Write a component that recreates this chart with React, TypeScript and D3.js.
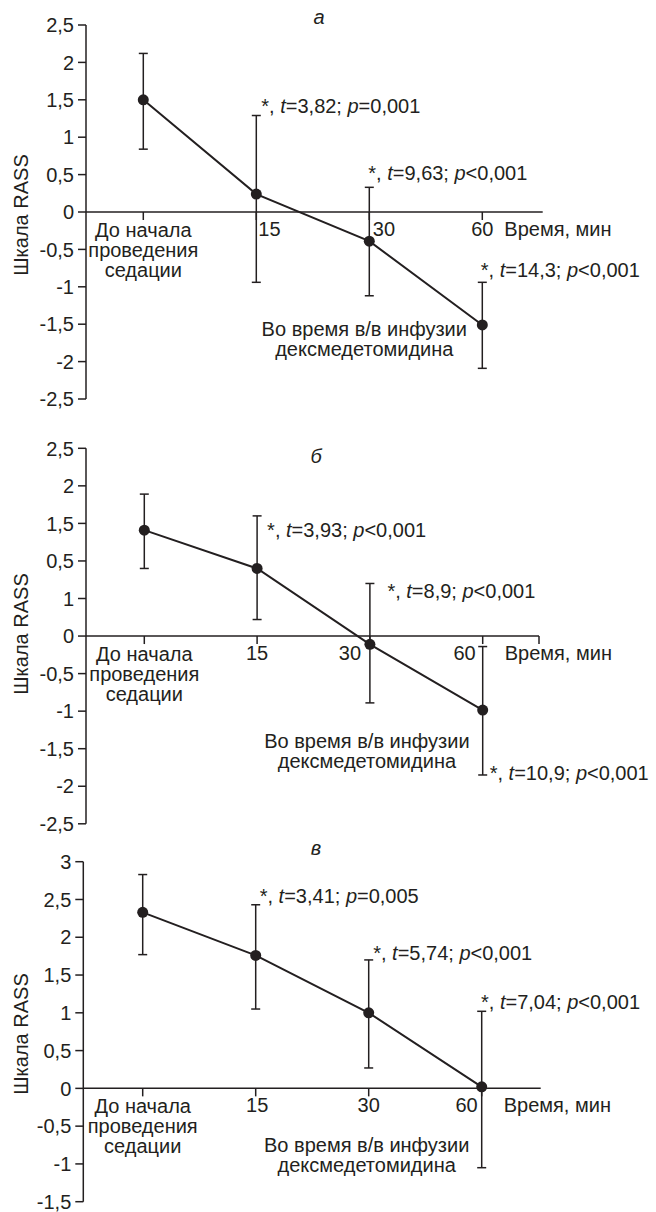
import React from "react";
import * as d3 from "d3";

// ---------- DATA ----------
const categories = ["pre", "15", "30", "60"];
const xTickLabels = ["", "15", "30", "60"];

const meanA = [1.5, 0.24, -0.39, -1.51];
const upperA = [2.12, 1.29, 0.33, -0.94];
const lowerA = [0.84, -0.94, -1.12, -2.09];

const meanB = [1.41, 0.9, -0.11, -0.985];
const upperB = [1.89, 1.6, 0.7, -0.14];
const lowerB = [0.9, 0.22, -0.89, -1.85];

const meanC = [2.33, 1.76, 1.0, 0.02];
const upperC = [2.83, 2.43, 1.7, 1.02];
const lowerC = [1.77, 1.05, 0.27, -1.05];

const yTicksAB = [2.5, 2, 1.5, 1, 0.5, 0, -0.5, -1, -1.5, -2, -2.5];
const yTickLabelsA = ["2,5", "2", "1,5", "1", "0,5", "0", "-0,5", "-1", "-1,5", "-2", "-2,5"];
const yTickLabelsB = ["2,5", "2", "1,5", "0,5", "1", "0", "-0,5", "-1", "-1,5", "-2", "-2,5"];
const yTicksC = [3, 2.5, 2, 1.5, 1, 0.5, 0, -0.5, -1, -1.5];
const yTickLabelsC = ["3", "2,5", "2", "1,5", "1", "0,5", "0", "-0,5", "-1", "-1,5"];

const statsA = [
  { t: "3,82", op: "=", p: "0,001" },
  { t: "9,63", op: "<", p: "0,001" },
  { t: "14,3", op: "<", p: "0,001" },
];
const statsB = [
  { t: "3,93", op: "<", p: "0,001" },
  { t: "8,9", op: "<", p: "0,001" },
  { t: "10,9", op: "<", p: "0,001" },
];
const statsC = [
  { t: "3,41", op: "=", p: "0,005" },
  { t: "5,74", op: "<", p: "0,001" },
  { t: "7,04", op: "<", p: "0,001" },
];

const titles = ["а", "б", "в"];
const preLabel = ["До начала", "проведения", "седации"];
const duringLabel = ["Во время в/в инфузии", "дексмедетомидина"];
const xAxisTitle = "Время, мин";
const yAxisTitle = "Шкала RASS";

// ---------- LAYOUT ----------
const FONT = "'Liberation Sans', Arial, sans-serif";
const FS = 20;
const LINE = 20;

const panels = [
  {
    mean: meanA, upper: upperA, lower: lowerA, stats: statsA,
    ticks: yTicksAB, tickLabels: yTickLabelsA, yDomain: [-2.5, 2.5],
    axisX: 86, yRange: [399, 25], xRange: [143.3, 482.3], axisEnd: 542.7, endTick: false,
    title: [319, 24], yLabelY: 215,
    xLab: [{ dx: 2, a: "start" }, { dx: 3.5, a: "start" }, { dx: 0, a: "middle" }],
    during: { dx: -5, dy: 124 },
    ann: [
      { i: 1, dx: 5, dy: -3, ref: "upper" },
      { i: 2, dx: -1, dy: -7, ref: "upper" },
      { i: 3, dx: -1.5, dy: -5, ref: "upper" },
    ],
  },
  {
    mean: meanB, upper: upperB, lower: lowerB, stats: statsB,
    ticks: yTicksAB, tickLabels: yTickLabelsB, yDomain: [-2.5, 2.5],
    axisX: 86, yRange: [823.8, 448.3], xRange: [144.3, 482.7], axisEnd: 539, endTick: true,
    title: [316, 463], yLabelY: 634,
    xLab: [{ dx: 0, a: "middle" }, { dx: -20, a: "middle" }, { dx: -7, a: "end" }],
    during: { dx: -3, dy: 112 },
    ann: [
      { i: 1, dx: 10, dy: 21, ref: "upper" },
      { i: 2, dx: 17.5, dy: 14.5, ref: "upper" },
      { i: 3, dx: 7, dy: 5, ref: "lower" },
    ],
  },
  {
    mean: meanC, upper: upperC, lower: lowerC, stats: statsC,
    ticks: yTicksC, tickLabels: yTickLabelsC, yDomain: [-1.5, 3],
    axisX: 83.3, yRange: [1201.7, 861.7], xRange: [142.7, 481.7], axisEnd: 540.7, endTick: false,
    title: [316, 855], yLabelY: 1034,
    xLab: [{ dx: 1.5, a: "middle" }, { dx: 0, a: "middle" }, { dx: -4, a: "end" }],
    during: { dx: -2, dy: 64 },
    ann: [
      { i: 1, dx: 4, dy: -2, ref: "upper" },
      { i: 2, dx: 4.5, dy: 0, ref: "upper" },
      { i: 3, dx: -0.7, dy: -2.5, ref: "upper" },
    ],
  },
];

function Panel({ p, idx }: { p: any; idx: number }) {
  const y = d3.scaleLinear().domain(p.yDomain).range(p.yRange);
  const x = d3.scalePoint().domain(categories).range(p.xRange);
  const y0 = y(0);
  const pts = categories.map((c, i) => ({ c, v: p.mean[i], up: p.upper[i], lo: p.lower[i] }));
  const line = d3
    .line<any>()
    .x((d) => x(d.c) as number)
    .y((d) => y(d.v));
  const top = Math.min(...p.yRange);
  const bottom = Math.max(...p.yRange);
  const cap = 4.5;
  return (
    <g fontFamily={FONT} fontSize={FS} fill="#231f20">
      {/* y axis */}
      <line x1={p.axisX} x2={p.axisX} y1={top} y2={bottom} stroke="#231f20" strokeWidth={1.5} />
      {p.ticks.map((t: number, i: number) => (
        <g key={"yt" + i}>
          <line x1={p.axisX - 8} x2={p.axisX} y1={y(t)} y2={y(t)} stroke="#231f20" strokeWidth={1.5} />
          <text x={p.axisX - 12} y={y(t)} dy="0.36em" textAnchor="end">
            {p.tickLabels[i]}
          </text>
        </g>
      ))}
      {/* x axis at zero */}
      <line x1={p.axisX} x2={p.axisEnd} y1={y0} y2={y0} stroke="#231f20" strokeWidth={1.5} />
      {categories.map((c, i) => (
        <line key={"xt" + i} x1={x(c)} x2={x(c)} y1={y0} y2={y0 + 8} stroke="#231f20" strokeWidth={1.5} />
      ))}
      {p.endTick && (
        <line x1={p.axisEnd} x2={p.axisEnd} y1={y0} y2={y0 + 8} stroke="#231f20" strokeWidth={1.5} />
      )}
      {categories.slice(1).map((c, i) => (
        <text key={"xl" + i} x={(x(c) as number) + p.xLab[i].dx} y={y0 + 24} textAnchor={p.xLab[i].a}>
          {xTickLabels[i + 1]}
        </text>
      ))}
      <text x={(x("60") as number) + 22} y={y0 + 24}>
        {xAxisTitle}
      </text>
      {preLabel.map((s, i) => (
        <text key={"pl" + i} x={x("pre")} y={y0 + 25 + i * LINE} textAnchor="middle">
          {s}
        </text>
      ))}
      {duringLabel.map((s, i) => (
        <text key={"dl" + i} x={(x("30") as number) + p.during.dx} y={y0 + p.during.dy + i * LINE} textAnchor="middle">
          {s}
        </text>
      ))}
      {/* title */}
      <text x={p.title[0]} y={p.title[1]} fontStyle="italic" textAnchor="middle">
        {titles[idx]}
      </text>
      {/* y label */}
      <text transform={`translate(28,${p.yLabelY}) rotate(-90)`} textAnchor="middle">
        {yAxisTitle}
      </text>
      {/* error bars */}
      {pts.map((d, i) => {
        const cx = x(d.c) as number;
        return (
          <g key={"eb" + i} stroke="#231f20" strokeWidth={1.5}>
            <line x1={cx} x2={cx} y1={y(d.up)} y2={y(d.lo)} />
            <line x1={cx - cap} x2={cx + cap} y1={y(d.up)} y2={y(d.up)} />
            <line x1={cx - cap} x2={cx + cap} y1={y(d.lo)} y2={y(d.lo)} />
          </g>
        );
      })}
      {/* line */}
      <path d={line(pts) as string} fill="none" stroke="#231f20" strokeWidth={2} />
      {pts.map((d, i) => (
        <circle key={"pt" + i} cx={x(d.c)} cy={y(d.v)} r={5.5} fill="#231f20" />
      ))}
      {/* annotations */}
      {p.ann.map((a: any, k: number) => {
        const s = p.stats[k];
        const cx = (x(categories[a.i]) as number) + a.dx;
        const refV = a.ref === "upper" ? p.upper[a.i] : p.lower[a.i];
        const cy = y(refV) + a.dy;
        return (
          <text key={"an" + k} x={cx} y={cy}>
            <tspan>{"*, "}</tspan>
            <tspan fontStyle="italic">t</tspan>
            <tspan>{"=" + s.t + "; "}</tspan>
            <tspan fontStyle="italic">p</tspan>
            <tspan>{s.op + s.p}</tspan>
          </text>
        );
      })}
    </g>
  );
}

export default function App() {
  return (
    <svg
      width={656}
      height={1212}
      style={{ position: "absolute", left: 0, top: 0, background: "#fff" }}
    >
      <rect width={656} height={1212} fill="#fff" />
      {panels.map((p, i) => (
        <Panel key={i} p={p} idx={i} />
      ))}
    </svg>
  );
}
